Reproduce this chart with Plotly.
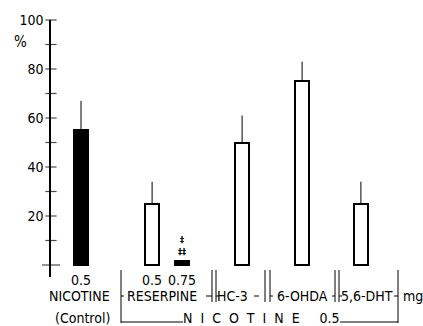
import plotly.graph_objects as go

# ---- data ----
groups = ["NICOTINE", "RESERPINE", "RESERPINE", "HC-3", "6-OHDA", "5,6-DHT"]
doses = ["0.5", "0.5", "0.75", "", "", ""]
values = [55, 25, 1.5, 50, 75, 25]
errors_plus = [12, 9, 0, 11, 8, 9]
y_ticks = [20, 40, 60, 80, 100]
minor_ticks = [0, 10, 20, 30, 40, 50, 60, 70, 80, 90, 100]

# ---- layout positions (slot units) ----
xpos = [1.0, 3.37, 4.37, 6.37, 8.37, 10.33]
fills = ["black", "white", "black", "white", "white", "white"]

FONT = "DejaVu Sans Condensed"

fig = go.Figure()
fig.add_trace(go.Bar(
    x=xpos, y=values, width=0.45,
    marker=dict(color=fills, line=dict(color="black", width=2)),
    error_y=dict(type="data", symmetric=False, array=errors_plus,
                 arrayminus=[0] * len(values), width=0, thickness=1, color="black"),
    showlegend=False, hoverinfo="skip",
))
# cross ticks on the y axis
fig.add_trace(go.Scatter(
    x=[0] * len(minor_ticks), y=minor_ticks, mode="markers",
    marker=dict(symbol="line-ew-open", color="black",
                size=[13] + [8] * (len(minor_ticks) - 1),
                line=dict(color="black", width=1.2)),
    cliponaxis=False, showlegend=False, hoverinfo="skip",
))

fig.update_layout(
    width=423, height=326,
    margin=dict(l=51, r=0, t=20, b=49),
    paper_bgcolor="white", plot_bgcolor="white",
    font=dict(family=FONT, size=13, color="black"),
    xaxis=dict(range=[0, 12.4], showgrid=False, zeroline=False,
               showticklabels=False, ticks="", showline=False),
    yaxis=dict(range=[-4.9, 100], showgrid=False, zeroline=False,
               tickvals=y_ticks, ticktext=[str(t) for t in y_ticks],
               ticks="", showline=True, linecolor="black", linewidth=1.5,
               ticklabelstandoff=3, tickfont=dict(family=FONT, size=14)),
    bargap=0,
)

def py2paper(py):
    return (277 - py) / 257

def px2u(px):
    return (px - 51) / 30

def txt_ann(x, y, text, size, xref="x", yref="paper"):
    return dict(x=x, y=y, xref=xref, yref=yref, text=text, showarrow=False,
                xanchor="center", yanchor="middle", font=dict(size=size))

ann = []
# % label
ann.append(txt_ann((20 - 51) / 372, 91, "%", 15, xref="paper", yref="y"))

# dose labels
for xp, d in zip(xpos, doses):
    if d:
        ann.append(txt_ann(xp, py2paper(280), d, 14))

# significance marks above 0.75 bar
sig = txt_ann(xpos[2], 2.5, "<b>‡<br>‡‡</b>", 9, yref="y")
sig["yanchor"] = "bottom"
ann.append(sig)

label_row = [("NICOTINE", 79), ("RESERPINE", 162), ("HC-3", 232),
             ("6-OHDA", 302), ("5,6-DHT", 367), ("mg", 413)]
for t, cx in label_row:
    ann.append(txt_ann(px2u(cx), py2paper(296), t, 14))

ann.append(txt_ann(px2u(82), py2paper(318), "(Control)", 14))
ann.append(txt_ann(px2u(261), py2paper(318), "N  I  C  O  T  I  N  E     0.5", 14))
fig.update_layout(annotations=ann)

shapes = []
def vline(px, py0, py1):
    shapes.append(dict(type="line", xref="x", yref="paper",
                       x0=px2u(px), x1=px2u(px), y0=py2paper(py0), y1=py2paper(py1),
                       line=dict(color="black", width=1)))
def hline(px0, px1, py):
    shapes.append(dict(type="line", xref="x", yref="paper",
                       x0=px2u(px0), x1=px2u(px1), y0=py2paper(py), y1=py2paper(py),
                       line=dict(color="black", width=1)))

vline(121, 270, 323)
for p in (212, 216, 265, 270, 335, 339):
    vline(p, 270, 302)
vline(398, 270, 323)
hline(121, 183, 322)
hline(340, 398, 322)
# small stubs beside group labels
for a, b in ((121, 124), (206, 212), (216, 219), (254, 259), (270, 273),
             (332, 335), (339, 342), (394, 398)):
    hline(a, b, 296)
fig.update_layout(shapes=shapes)

fig.write_html("out.html", config={"displayModeBar": False},
               post_script="document.body.style.margin='0';")
